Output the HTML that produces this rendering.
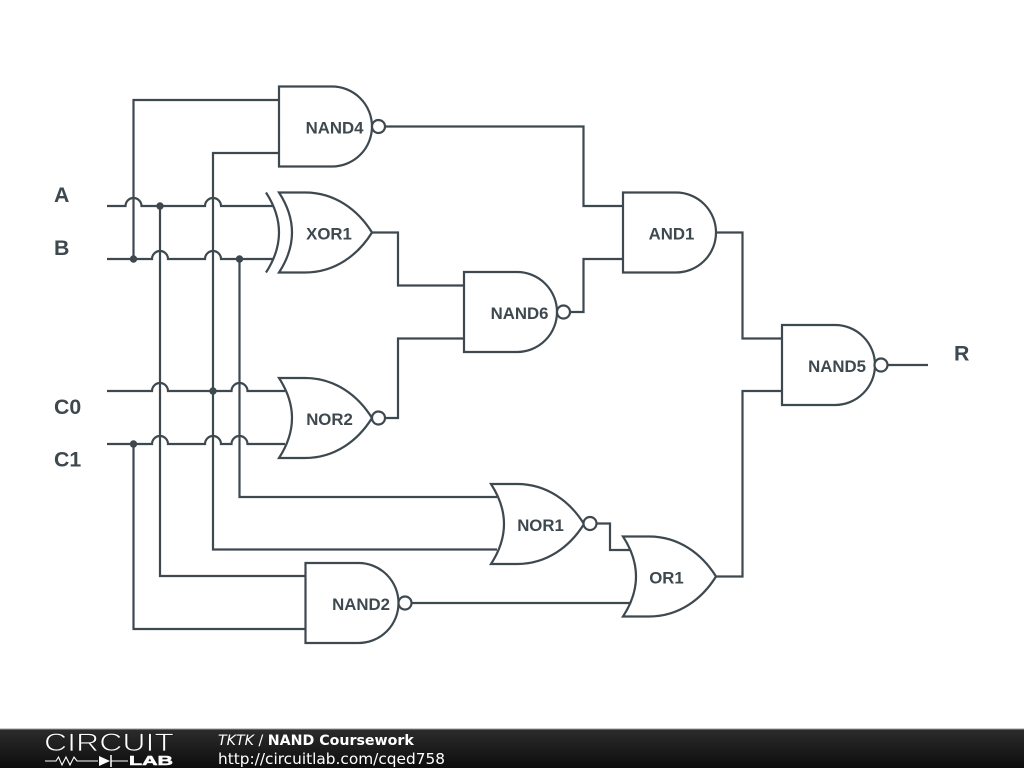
<!DOCTYPE html>
<html>
<head>
<meta charset="utf-8">
<style>
html,body{margin:0;padding:0;background:#fff;width:1024px;height:768px;overflow:hidden}
svg{display:block}
.w{fill:none;stroke:#3e484f;stroke-width:2.2}
.g{fill:#fff;stroke:#3e484f;stroke-width:2.2;stroke-linejoin:miter}
.l{font-family:"Liberation Sans",sans-serif;font-weight:bold;font-size:16.8px;fill:#3e484f;text-anchor:middle}
.p{font-family:"Liberation Sans",sans-serif;font-weight:bold;font-size:21.3px;fill:#3e484f}
.d{fill:#3e484f}
.f{font-family:"DejaVu Sans",sans-serif;fill:#fff}
</style>
</head>
<body>
<svg width="1024" height="768" viewBox="0 0 1024 768" xmlns="http://www.w3.org/2000/svg">
<defs>
<linearGradient id="bar" x1="0" y1="0" x2="0" y2="1">
<stop offset="0" stop-color="#2c2c2c"/><stop offset="1" stop-color="#0d0d0d"/>
</linearGradient>
</defs>
<rect width="1024" height="768" fill="#fff"/>

<!-- input rails with hops -->
<path class="w" d="M107 206H125.500A8 8 0 0 1 141.500 206H205A8 8 0 0 1 221 206H273"/>
<path class="w" d="M107 259H152A8 8 0 0 1 168 259H205A8 8 0 0 1 221 259H273"/>
<path class="w" d="M107 391H152A8 8 0 0 1 168 391H231.500A8 8 0 0 1 247.500 391H285"/>
<path class="w" d="M107 444H152A8 8 0 0 1 168 444H205A8 8 0 0 1 221 444H231.500A8 8 0 0 1 247.500 444H285"/>

<!-- verticals -->
<path class="w" d="M279 100H133.500V259"/>
<path class="w" d="M279 153H213V549.500H497"/>
<path class="w" d="M160 206V576H306"/>
<path class="w" d="M133.500 444V629H306"/>
<path class="w" d="M239.500 259V497H497"/>

<!-- gate outputs -->
<path class="w" d="M385 126.500H583.500V206H623"/>
<path class="w" d="M372 232.500H398V285.500H464"/>
<path class="w" d="M385 418H398V338.500H464"/>
<path class="w" d="M570 312H583.500V259H623"/>
<path class="w" d="M716 232.500H742.500V338.500H782"/>
<path class="w" d="M716 576.500H742.500V391H782"/>
<path class="w" d="M596.500 523.500H610V550H632"/>
<path class="w" d="M411.500 603H632"/>
<path class="w" d="M887.500 365H928"/>

<!-- dots -->
<circle class="d" cx="160" cy="206" r="3.700"/>
<circle class="d" cx="133.500" cy="259" r="3.700"/>
<circle class="d" cx="239.500" cy="259" r="3.700"/>
<circle class="d" cx="213" cy="391" r="3.700"/>
<circle class="d" cx="133.500" cy="444" r="3.700"/>

<!-- NAND4 -->
<path class="g" d="M279 86.500H332A40 40 0 0 1 332 166.500H279Z"/>
<circle class="g" cx="378.500" cy="126.500" r="6.500"/>
<text class="l" x="334.500" y="133.500">NAND4</text>

<!-- XOR1 -->
<path class="w" d="M266 192.500Q292 232.500 266 272.500"/>
<path class="g" d="M279 192.500H305C335 192.500 358 210 372 232.500C358 255 335 272.500 305 272.500H279Q305 232.500 279 192.500Z"/>
<text class="l" x="329" y="239.500">XOR1</text>

<!-- NOR2 -->
<path class="g" d="M279 378H305C335 378 358 395.500 372 418C358 440.500 335 458 305 458H279Q305 418 279 378Z"/>
<circle class="g" cx="378.500" cy="418" r="6.500"/>
<text class="l" x="329.500" y="425">NOR2</text>

<!-- NAND6 -->
<path class="g" d="M464 272H517A40 40 0 0 1 517 352H464Z"/>
<circle class="g" cx="563.500" cy="312" r="6.500"/>
<text class="l" x="519.500" y="319">NAND6</text>

<!-- AND1 -->
<path class="g" d="M623 192.500H676A40 40 0 0 1 676 272.500H623Z"/>
<text class="l" x="671.500" y="239.500">AND1</text>

<!-- NAND5 -->
<path class="g" d="M782 325H835A40 40 0 0 1 835 405H782Z"/>
<circle class="g" cx="881" cy="365" r="6.500"/>
<text class="l" x="837" y="372">NAND5</text>

<!-- NOR1 -->
<path class="g" d="M491 484H517C547 484 570 501.500 584 524C570 546.500 547 564 517 564H491Q517 524 491 484Z"/>
<circle class="g" cx="590" cy="523.500" r="6.500"/>
<text class="l" x="540.500" y="531">NOR1</text>

<!-- OR1 -->
<path class="g" d="M623 536.500H649C679 536.500 702 554 716 576.500C702 599 679 616.500 649 616.500H623Q649 576.500 623 536.500Z"/>
<text class="l" x="666.500" y="583.500">OR1</text>

<!-- NAND2 -->
<path class="g" d="M305.500 563H358.500A40 40 0 0 1 358.500 643H305.500Z"/>
<circle class="g" cx="405" cy="603" r="6.500"/>
<text class="l" x="361" y="610">NAND2</text>

<!-- port labels -->
<text class="p" x="54" y="202">A</text>
<text class="p" x="54" y="255">B</text>
<text class="p" x="54" y="414">C0</text>
<text class="p" x="54" y="466.500">C1</text>
<text class="p" x="954" y="360.500">R</text>

<!-- footer -->
<rect x="0" y="729" width="1024" height="39" fill="url(#bar)"/>
<rect x="0" y="728.500" width="1024" height="1" fill="#9a9a9a"/>
<text x="44" y="751" font-family="Liberation Sans,sans-serif" font-size="25" fill="#fff" stroke="#1e1e1e" stroke-width="0.8" textLength="130" lengthAdjust="spacingAndGlyphs">CIRCUIT</text>
<path d="M45 761H56L58.500 757L62 765L66 757L70 765L74 757L77 761H98" fill="none" stroke="#fff" stroke-width="1.100"/>
<path d="M99 756L110 761L99 766Z" fill="#fff"/>
<path d="M111 755V767" stroke="#fff" stroke-width="1.500"/>
<path d="M111 761H128" stroke="#fff" stroke-width="1.100"/>
<text x="129" y="765" font-family="Liberation Sans,sans-serif" font-size="13" font-weight="bold" fill="#fff" stroke="#fff" stroke-width="0.5" textLength="44" lengthAdjust="spacingAndGlyphs">LAB</text>
<text class="f" x="218" y="745" font-size="14.2"><tspan font-style="italic">TKTK</tspan> / <tspan font-weight="bold">NAND Coursework</tspan></text>
<text class="f" x="218" y="764" font-size="15.35">http://circuitlab.com/cqed758</text>
</svg>
</body>
</html>
